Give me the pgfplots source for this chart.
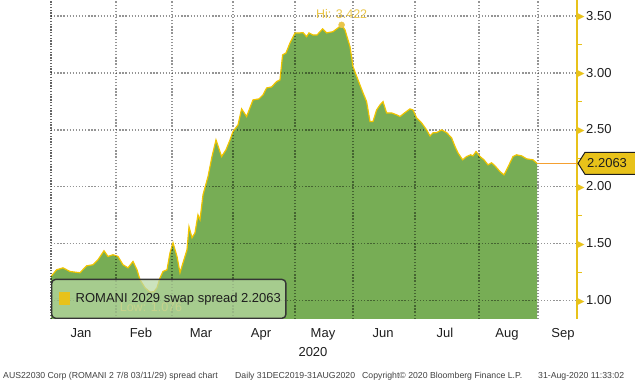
\documentclass[border=0pt]{standalone}
\usepackage{fontspec}
\setmainfont{Liberation Sans}
\newfontfamily\dejavu{DejaVu Sans}
\usepackage{pgfplots}
\pgfplotsset{compat=1.18}
\usepackage{pgfplotstable}
\definecolor{areagreen}{HTML}{77AD55}
\definecolor{lineyellow}{HTML}{F0C400}
\definecolor{axisyellow}{HTML}{E8C21A}
\definecolor{hilabel}{HTML}{E9C549}
\definecolor{lastorange}{HTML}{F5A030}
\definecolor{legendfill}{HTML}{B9D8A5}
\definecolor{txt}{HTML}{1E1E1E}

% day = days since 1 Jan 2020, value = swap spread
\pgfplotstableread{
day value
0 1.213
2.8 1.272
6 1.289
9.5 1.257
14.5 1.246
17.8 1.307
21 1.316
23.5 1.360
26.5 1.439
28.5 1.389
31 1.404
33.5 1.389
36 1.316
38.5 1.289
41 1.345
43 1.272
44.5 1.184
47 1.114
49.5 1.076
51.5 1.080
53 1.114
54.5 1.200
56 1.257
58 1.272
59.5 1.421
61 1.509
63 1.389
64.5 1.246
66 1.333
68 1.447
69 1.649
70.5 1.553
72 1.596
73.5 1.754
74.5 1.711
76 1.930
78.5 2.090
80.5 2.266
82.5 2.412
85.3 2.266
87.5 2.325
89.5 2.412
91 2.485
93.5 2.544
95.3 2.684
97.8 2.617
101 2.763
104 2.772
106 2.807
107.8 2.868
110.3 2.877
112.8 2.924
114.5 2.939
115.8 3.158
117.5 3.175
119.5 3.263
122 3.351
124.5 3.351
126 3.354
127.8 3.318
129 3.351
131 3.333
133 3.333
135.8 3.386
137.8 3.351
141 3.362
143.5 3.395
145.3 3.422
147 3.377
149.5 3.231
151 3.055
153.5 2.939
156 2.825
157.8 2.748
159.5 2.573
161 2.573
162.8 2.675
164.5 2.719
166 2.748
167.8 2.649
170.3 2.649
172.8 2.632
174.5 2.617
177 2.652
179.5 2.684
181 2.675
182.8 2.605
185.3 2.561
187.8 2.500
189.5 2.447
191 2.474
192.8 2.476
195.3 2.500
197.8 2.476
200.3 2.430
202 2.354
203.5 2.298
205.8 2.237
207.8 2.266
209.8 2.281
211 2.272
212.5 2.310
214.5 2.266
216.5 2.237
218.5 2.193
220.3 2.211
222 2.184
224.5 2.134
226.5 2.105
227.8 2.149
229.5 2.211
231 2.266
232.8 2.281
235.3 2.272
237.8 2.246
241 2.237
243 2.2063
}\spread

\begin{document}
\begin{tikzpicture}[x=1pt,y=1pt,
  gridline/.style={black, draw opacity=0.42, line width=1.3pt, dash pattern=on 1.3pt off 1.8pt}]
\begin{axis}[
  at={(51pt,64pt)}, anchor=south west,
  scale only axis, width=526pt, height=319pt,
  xmin=0, xmax=263, ymin=0.84, ymax=3.64,
  clip mode=individual,
  axis x line*=bottom, axis y line*=right,
  x axis line style={draw=none},
  y axis line style={draw=axisyellow, line width=1.3pt, -},
  xtick={15,45,75,105,136,166,197,228,256},
  xticklabels={Jan,Feb,Mar,Apr,May,Jun,Jul,Aug,Sep},
  major x tick style={draw=none},
  ytick={1,1.5,2,2.5,3,3.5},
  minor ytick={1.25,1.75,2.25,2.75,3.25},
  major y tick style={draw=none},
  minor y tick style={axisyellow, line width=1.1pt},
  major tick length=0pt,
  minor tick length=5pt,
  tick align=outside,
  yticklabel={\textcolor{axisyellow}{\dejavu\fontsize{9.5}{9}\selectfont\raisebox{0.3pt}{▶}}\hspace{1.5pt}\pgfmathprintnumber[fixed,fixed zerofill,precision=2,assume math mode=true]{\tick}},
  yticklabel style={font=\fontsize{13}{15}\selectfont, text=txt, anchor=west, inner sep=0pt, xshift=0.2pt},
  xticklabel style={font=\fontsize{13}{15}\selectfont, text=txt, anchor=north, yshift=-6pt},
  legend style={at={(0,0)}, anchor=south west, draw=txt!90, line width=1.4pt,
    rounded corners=4pt, fill=legendfill, fill opacity=0.72, text opacity=1,
    font=\fontsize{13}{15}\selectfont, text=txt, inner xsep=3pt, inner ysep=12pt},
  legend cell align=left,
]
\addplot[fill=areagreen, draw=none,
  legend image code/.code={\path (-4pt,0pt) -- (15pt,0pt);
    \fill[axisyellow, fill opacity=1, sharp corners] (0pt,-6.5pt) rectangle (11pt,6.5pt);}]
  table[x=day, y=value] {\spread} \closedcycle;
\addlegendentry{ROMANI 2029 swap spread 2.2063}

% grid drawn over the area (as plots, so that they follow the fill)
\pgfplotsinvokeforeach{1,1.5,2,2.5,3,3.5}{
  \addplot[gridline, forget plot] coordinates {(0,#1) (263,#1)};
}
\pgfplotsinvokeforeach{32.5,60.5,91,122,151,182,214,243.5}{
  \addplot[gridline, forget plot] coordinates {(#1,0.84) (#1,3.64)};
}
\addplot[lineyellow, line width=1.2pt, forget plot] table[x=day, y=value] {\spread};

% left border
\draw[black, draw opacity=0.6, line width=1.4pt, dash pattern=on 1.3pt off 1.5pt] (rel axis cs:0,0) -- (rel axis cs:0,1);

% last value connector
\draw[lastorange, line width=1.3pt] (axis cs:243,2.2063) -- (axis cs:263,2.2063);
\coordinate (lv) at (axis cs:263,2.2063);

% high point
\addplot[hilabel, only marks, mark=*, mark size=3pt, forget plot,
  mark options={fill=hilabel, draw=hilabel}] coordinates {(145.3,3.422)};
\node[text=hilabel, font=\fontsize{12.5}{14}\selectfont] at (axis cs:145.3,3.513) {Hi: 3.422};
\node[text=hilabel, font=\fontsize{12.5}{14}\selectfont] at (axis cs:50,0.94) {Low: 1.076};
\node[text=txt, font=\fontsize{13}{15}\selectfont, anchor=north] at (axis cs:131,0.84) [yshift=-25pt] {2020};
\end{axis}

% last value label
\draw[fill=axisyellow, draw=txt, line width=1pt] ([xshift=1pt]lv) -- ++(7pt,11pt) -- ++(70pt,0) -- ++(0,-22pt) -- ++(-70pt,0) -- cycle;
\node[anchor=west, text=txt, font=\fontsize{13}{15}\selectfont, inner sep=0pt] at ([xshift=10pt]lv) {2.2063};

% footer
\begin{scope}[every node/.style={anchor=west, inner sep=0pt, text=txt!85, font=\fontsize{8.7}{10}\selectfont}]
\node at (3,7) {AUS22030 Corp (ROMANI 2 7/8 03/11/29) spread chart};
\node at (235,7) {Daily 31DEC2019-31AUG2020};
\node at (362,7) {Copyright© 2020 Bloomberg Finance L.P.};
\node at (538,7) {31-Aug-2020 11:33:02};
\end{scope}
\pgfresetboundingbox
\useasboundingbox (0,0) rectangle (635,383);
\end{tikzpicture}
\end{document}
